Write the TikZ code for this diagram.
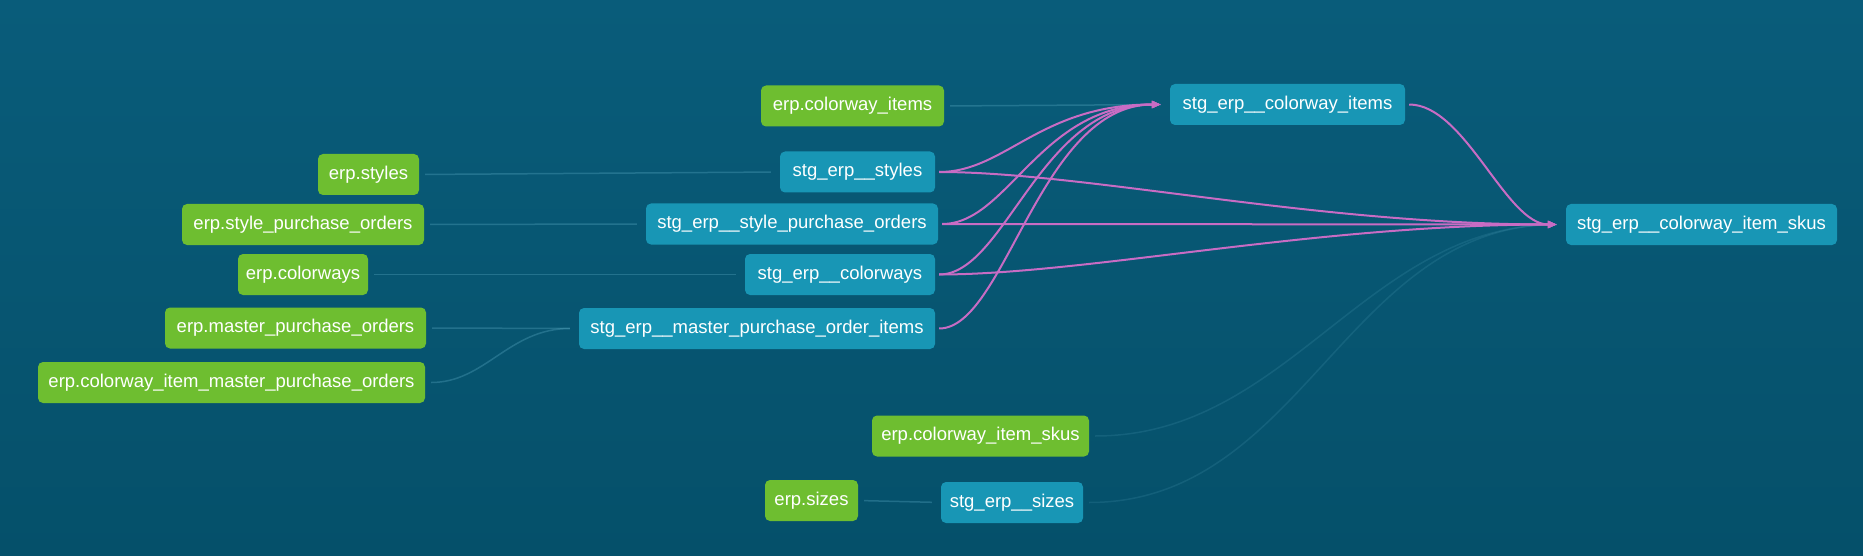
\documentclass[tikz,border=0pt]{standalone}
\usepackage{fontspec}
\setmainfont{Liberation Sans}
\usetikzlibrary{arrows.meta,calc}
\definecolor{bgtop}{RGB}{9,92,122}
\definecolor{bgbot}{RGB}{5,80,106}
\definecolor{srcgreen}{RGB}{110,190,48}
\definecolor{stgblue}{RGB}{24,150,181}
\definecolor{edgepink}{RGB}{200,108,196}
\definecolor{faintline}{RGB}{100,180,205}
\begin{document}
\begin{tikzpicture}[x=1pt,y=-1pt,
  box/.style={rectangle, rounded corners=5pt, minimum height=41pt, inner sep=0pt,
    text=white, font=\fontsize{18.5}{20}\selectfont},
  src/.style={box, fill=srcgreen},
  stg/.style={box, fill=stgblue},
  hl/.style={draw=edgepink, line width=2pt, shorten <=4pt, shorten >=9pt,
    -{Triangle[length=9pt,width=7pt]}},
  lowedge/.style={draw=faintline, draw opacity=0.3, line width=1.5pt, shorten <=6pt, shorten >=9pt},
  fainter/.style={lowedge, draw opacity=0.15},
]
\fill[top color=bgtop, bottom color=bgbot] (0,0) rectangle (1863,556);
\useasboundingbox (0,0) rectangle (1863,556);

% source nodes
\node[src, minimum width=183pt] (ci)     at (852.5,106)   {erp.colorway\_items};
\node[src, minimum width=101pt] (es)     at (368.5,174.5) {erp.styles};
\node[src, minimum width=242pt] (espo)   at (303,224.5)   {erp.style\_purchase\_orders};
\node[src, minimum width=130pt] (ec)     at (303,274.5)   {erp.colorways};
\node[src, minimum width=261pt] (empo)   at (295.5,328)   {erp.master\_purchase\_orders};
\node[src, minimum width=387pt] (ecimpo) at (231.5,382.5) {erp.colorway\_item\_master\_purchase\_orders};
\node[src, minimum width=217pt] (ecis)   at (980.5,436)   {erp.colorway\_item\_skus};
\node[src, minimum width=93pt]  (esz)    at (811.5,500.5) {erp.sizes};

% staging nodes
\node[stg, minimum width=235pt] (sci)   at (1287.5,104.5) {stg\_erp\_\_colorway\_items};
\node[stg, minimum width=155pt] (ss)    at (857.5,172)    {stg\_erp\_\_styles};
\node[stg, minimum width=292pt] (sspo)  at (792,224)      {stg\_erp\_\_style\_purchase\_orders};
\node[stg, minimum width=271pt] (scis)  at (1701.5,224.5) {stg\_erp\_\_colorway\_item\_skus};
\node[stg, minimum width=190pt] (sc)    at (840,274.5)    {stg\_erp\_\_colorways};
\node[stg, minimum width=356pt] (smpoi) at (757,328.5)    {stg\_erp\_\_master\_purchase\_order\_items};
\node[stg, minimum width=142pt] (ssz)   at (1012,502.5)   {stg\_erp\_\_sizes};

% faint (non-highlighted) edges
\draw[lowedge] (es.east) -- (ss.west);
\draw[lowedge] (espo.east) -- (sspo.west);
\draw[lowedge] (ec.east) -- (sc.west);
\draw[lowedge] (empo.east) -- (smpoi.west);
\draw[lowedge] (ecimpo.east) .. controls +(60,0) and +(-70,0) .. (smpoi.west);
\draw[lowedge] (ci.east) -- (sci.west);
\draw[lowedge] (esz.east) -- (ssz.west);
\draw[fainter] (ecis.east) .. controls +(200,0) and +(-200,0) .. (scis.west);
\draw[fainter] (ssz.east) .. controls +(220,0) and +(-220,0) .. (scis.west);

% highlighted edges
\draw[hl] (ss.east)    .. controls +(70,0) and +(-130,0) .. (sci.west);
\draw[hl] (sspo.east)  .. controls +(70,0) and +(-130,0) .. (sci.west);
\draw[hl] (sc.east)    .. controls +(70,0) and +(-130,0) .. (sci.west);
\draw[hl] (smpoi.east) .. controls +(70,0) and +(-130,0) .. (sci.west);
\draw[hl] (ss.east)    .. controls +(150,0) and +(-250,0) .. (scis.west);
\draw[hl] (sspo.east)  -- (scis.west);
\draw[hl] (sc.east)    .. controls +(150,0) and +(-250,0) .. (scis.west);
\draw[hl] (sci.east)   .. controls +(60,0) and +(-60,0) .. (scis.west);
\end{tikzpicture}
\end{document}
